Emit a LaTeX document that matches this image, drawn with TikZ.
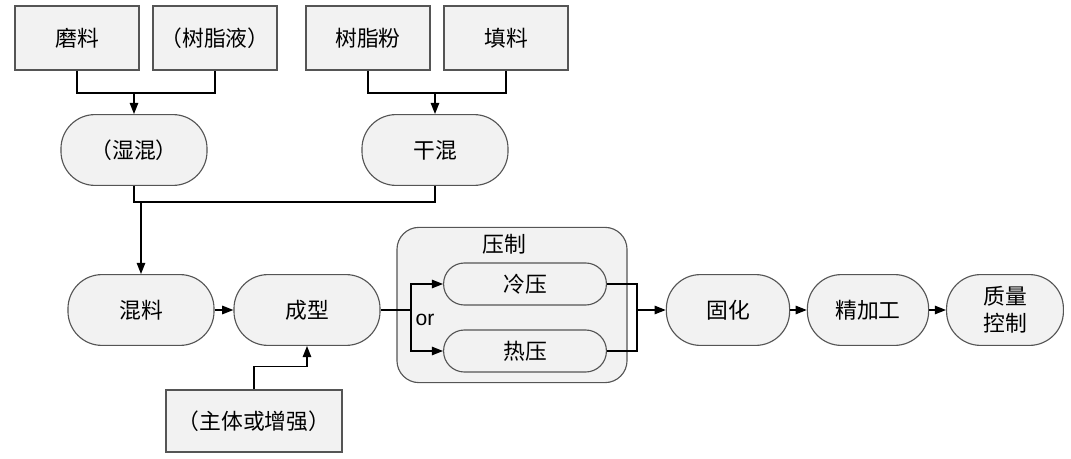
\documentclass[tikz,border=0pt]{standalone}
\usepackage{fontspec}
\newfontfamily\cjk{Noto Sans CJK SC}
\newfontfamily\latinsans{Liberation Sans}
\usetikzlibrary{arrows.meta,calc}
\definecolor{BoxFill}{RGB}{242,242,242}
\definecolor{BoxLine}{RGB}{85,85,85}

\begin{document}
\begin{tikzpicture}[x=0.025cm,y=-0.025cm,
  every node/.style={font=\cjk\fontsize{15.5}{19}\selectfont},
  srcbox/.style={draw=BoxLine,fill=BoxFill,line width=0.8pt,minimum width=3.1cm,minimum height=1.6cm,inner sep=0pt},
  pill/.style={draw=BoxLine,fill=BoxFill,line width=0.8pt,rounded corners=0.85cm,minimum width=3.65cm,minimum height=1.77cm,inner sep=0pt,align=center},
  spill/.style={draw=BoxLine,fill=BoxFill,line width=0.8pt,rounded corners=0.52cm,minimum width=4.07cm,minimum height=1.05cm,inner sep=0pt},
  grp/.style={draw=BoxLine,fill=BoxFill,line width=0.8pt,rounded corners=0.55cm,minimum width=5.75cm,minimum height=3.88cm,inner sep=0pt},
  line/.style={black,line width=1.2pt},
  arr/.style={line,-{Triangle[length=8pt,width=6pt]}}]
\useasboundingbox (0,0) rectangle (1071,459);

\node[srcbox] (mo) at (77,38) {磨料};
\node[srcbox] (sz) at (215,38) {（树脂液）};
\node[srcbox] (sf) at (368,38) {树脂粉};
\node[srcbox] (tl) at (506,38) {填料};

\node[pill] (sh) at (134,150) {（湿混）};
\node[pill] (gh) at (435,150) {干混};

\node[pill] (hl) at (141,310) {混料};
\node[pill] (cx) at (307,310) {成型};

\node[grp] (yz) at (512,305) {};
\node (yzt) at (504,244) {压制};
\node[spill] (lp) at (525,284) {冷压};
\node[spill] (rp) at (525,351) {热压};

\node[pill,minimum width=3.08cm] (gu) at (728,310) {固化};
\node[pill,minimum width=3.03cm] (jj) at (868,310) {精加工};
\node[pill,minimum width=2.92cm] (zl) at (1005,310) {质量\\控制};

\node[srcbox,minimum width=4.4cm,minimum height=1.55cm] (zt) at (254,421) {（主体或增强）};

\coordinate (j1) at (134,93);
\coordinate (j2) at (435,93);
\coordinate (j3) at (141,202);
\coordinate (split) at (411,310);
\coordinate (merge) at (637,310);

\draw[line] (mo.south) |- (j1) -| (sz.south);
\draw[arr] (j1) -- (sh.north);
\draw[line] (sf.south) |- (j2) -| (tl.south);
\draw[arr] (j2) -- (gh.north);

\draw[line] (sh.south) |- (j3) -| (gh.south);
\draw[arr] (j3) -- (hl.north);

\draw[arr] (hl.east) -- (cx.west);
\draw[arr] (zt.north) -- ++(0,-23) -| (cx.south);

\draw[line] (cx.east) -- (split);
\draw[arr] (split) |- (lp.west);
\draw[arr] (split) |- (rp.west);
\node[font=\latinsans\fontsize{15}{17}\selectfont] (orl) at (425,320) {or};

\draw[line] (lp.east) -| (merge);
\draw[line] (rp.east) -| (merge);
\draw[arr] (merge) -- (gu.west);

\draw[arr] (gu.east) -- (jj.west);
\draw[arr] (jj.east) -- (zl.west);

\end{tikzpicture}
\end{document}
